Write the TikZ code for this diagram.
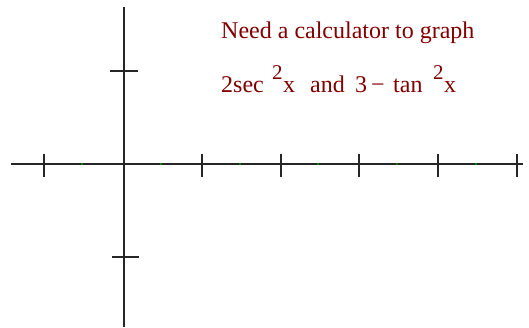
\documentclass[tikz,border=0pt]{standalone}
\usepackage{fontspec}
\setmainfont{Liberation Serif}
\begin{document}
\begin{tikzpicture}[x=1pt,y=-1pt,
  axis/.style={draw=black!85,line width=1.2pt},
  tick/.style={draw=black!85,line width=1.2pt},
  lbl/.style={inner sep=0pt,anchor=base west,text=red!50!black,font=\fontsize{24}{28}\selectfont},
  sup/.style={inner sep=0pt,anchor=base west,text=red!50!black,font=\fontsize{21}{24}\selectfont},
  gdot/.style={fill=green!60!black,circle,inner sep=0pt,minimum size=2.2pt}]
\useasboundingbox (0,0) rectangle (529,328);
% axes
\coordinate (xl) at (11,164);
\coordinate (xr) at (523,164);
\coordinate (yt) at (124,7);
\coordinate (yb) at (124,327);
\draw[axis] (xl) -- (xr);
\draw[axis] (yt) -- (yb);
% x ticks
\foreach \x/\n in {44/a,202/b,281/c,359/d,438/e,517/f}{
  \coordinate (t\n1) at (\x,154);
  \coordinate (t\n2) at (\x,177);
  \draw[tick] (t\n1) -- (t\n2);
}
% y ticks
\coordinate (ya1) at (110,71); \coordinate (ya2) at (138,71);
\coordinate (yb1) at (112,257); \coordinate (yb2) at (139,257);
\draw[tick] (ya1) -- (ya2);
\draw[tick] (yb1) -- (yb2);
% green dots
\foreach \x/\n in {82/a,161/b,240/c,318/d,397/e,476/f}{
  \node[gdot] (g\n) at (\x,164) {};
}
% text
\node[lbl] (l1) at (221,39) {Need a calculator to graph};
\node[lbl] (p1) at (221,93) {2sec};
\node[sup] (s1) at (272,80) {2};
\node[lbl] (x1) at (283,93) {x};
\node[lbl] (a1) at (310,93) {and};
\node[lbl] (n3) at (355,93) {3};
\node[lbl] (m1) at (371,93) {\char"2212};
\node[lbl] (t1) at (393,93) {tan};
\node[sup] (s2) at (433,80) {2};
\node[lbl] (x2) at (444,93) {x};
\end{tikzpicture}
\end{document}
